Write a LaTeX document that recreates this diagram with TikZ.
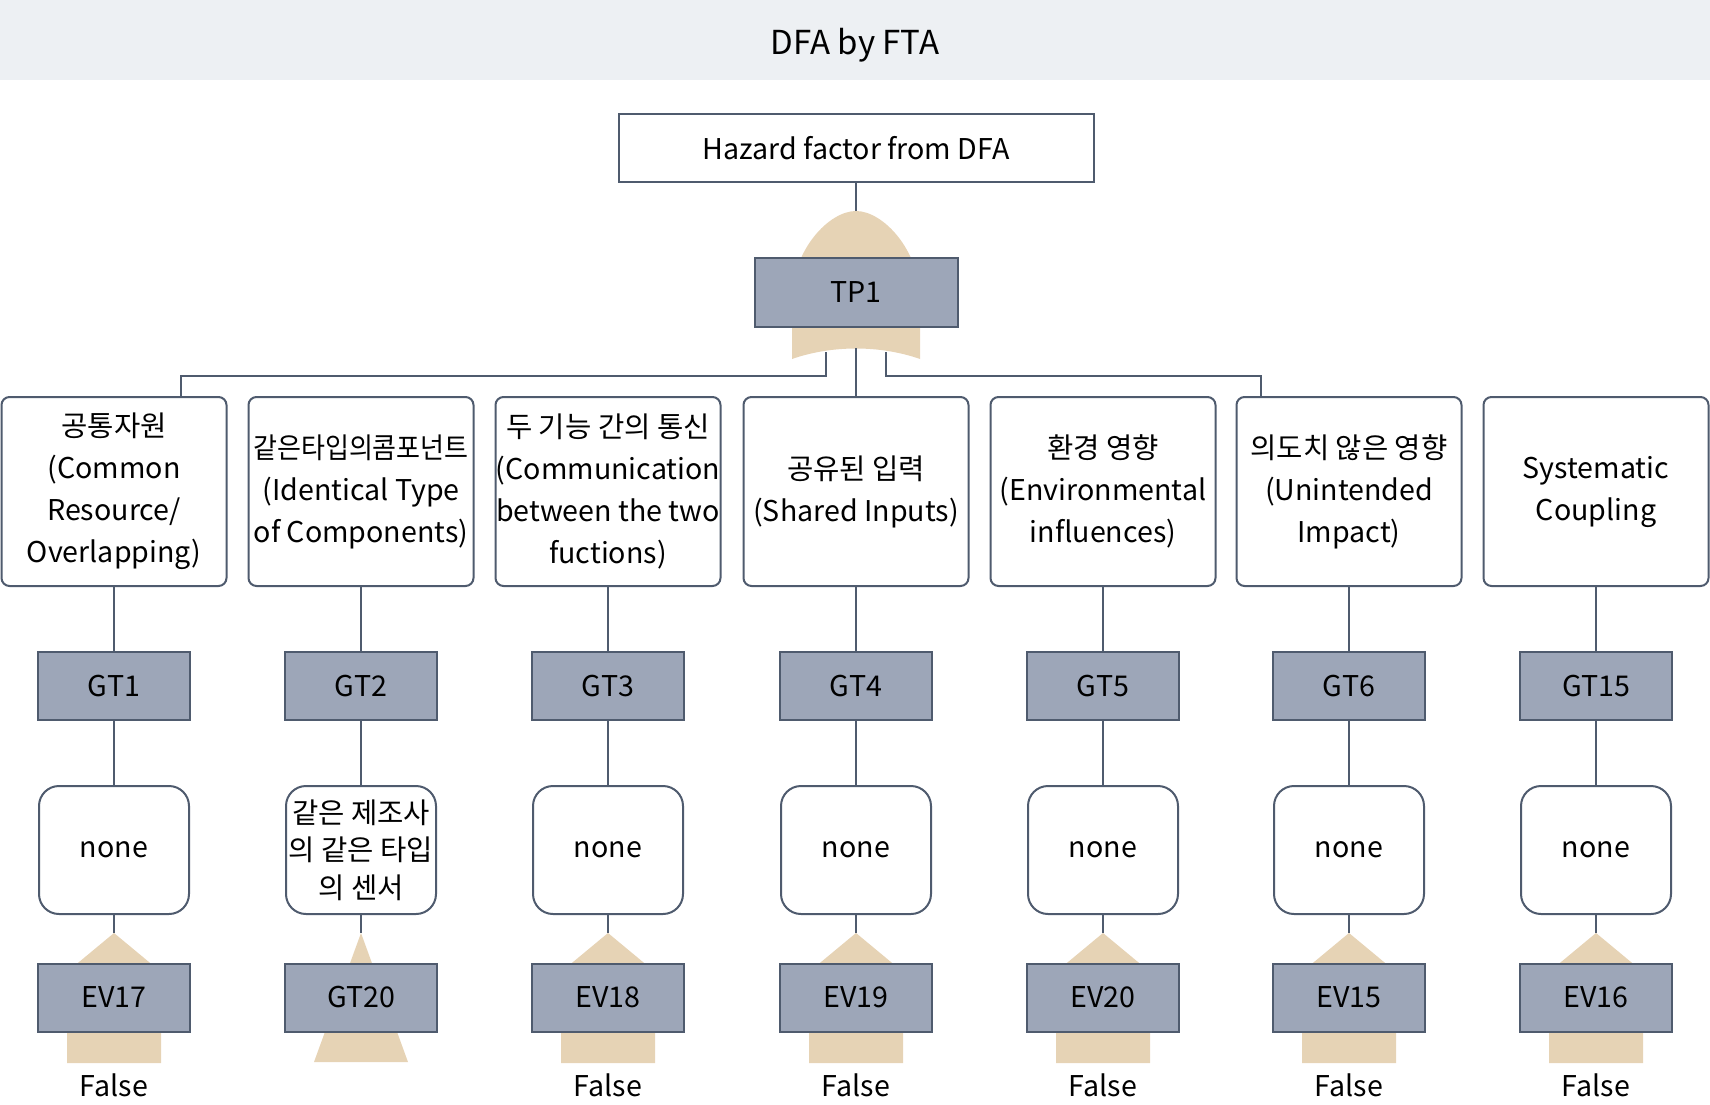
\documentclass[tikz,border=0pt]{standalone}
\usepackage{fontspec}
\setmainfont{Noto Sans CJK KR}
\usepackage{graphicx}
\usetikzlibrary{calc}

\definecolor{edge}{RGB}{79,91,110}
\definecolor{gatefill}{RGB}{157,166,184}
\definecolor{gatetan}{RGB}{230,211,181}
\definecolor{band}{RGB}{237,240,243}

\begin{document}
\begin{tikzpicture}[
  x=1pt, y=-1pt,
  font=\fontsize{28.6}{37.6}\selectfont,
  wire/.style={draw=edge, line width=2pt},
  box/.style={draw=edge, line width=2pt, fill=white, align=center, inner sep=0pt},
  topbox/.style={box, minimum width=475pt, minimum height=68pt},
  catbox/.style={box, rounded corners=8pt, minimum width=225pt, minimum height=189pt,
                 font=\fontsize{28.6}{42}\selectfont},
  nonebox/.style={box, rounded corners=20pt, minimum width=150pt, minimum height=128pt},
  gatebox/.style={box, fill=gatefill, minimum width=152pt, minimum height=68pt},
  symbol/.style={fill=gatetan},
]
\useasboundingbox (0,0) rectangle (1710,1105);

% title band
\fill[band] (0,0) rectangle (1710,80);
\node (title) at (855,45) {\fontsize{33}{40}\selectfont DFA by FTA};

% top event and OR gate
\node[topbox] (hazard) at (856,148) {Hazard factor from DFA};

\coordinate (orTop) at (856,211);
\coordinate (orBotL) at (826,352);
\coordinate (orBot) at (856,348);
\coordinate (orBotR) at (886,352);
\fill[symbol] (792,359) -- (792,300) .. controls (792,250) and (829,211) .. (orTop)
  .. controls (883,211) and (920,250) .. (920,300) -- (920,359)
  .. controls (880,345) and (832,345) .. cycle;
\node[gatebox, minimum width=203pt, minimum height=69pt] (tp1) at (856,292.5) {TP1};
\draw[wire] (hazard.south) -- (orTop);

% DFA categories
\node[catbox] (cat1) at (114,491.5) {공통자원\\(Common\\Resource/\\Overlapping)};
\node[catbox] (cat2) at (361,491.5) {\scalebox{0.91}[1]{같은타입의콤포넌트}\\(Identical Type\\of Components)};
\node[catbox] (cat3) at (608,491.5) {두 기능 간의 통신\\(Communication\\between the two\\fuctions)};
\node[catbox] (cat4) at (856,491.5) {공유된 입력\\(Shared Inputs)};
\node[catbox] (cat5) at (1103,491.5) {환경 영향\\(Environmental\\influences)};
\node[catbox] (cat6) at (1349,491.5) {의도치 않은 영향\\(Unintended\\Impact)};
\node[catbox] (cat7) at (1596,491.5) {Systematic\\Coupling};

\draw[wire] (orBotL) -- ++(0,24) -| ($(cat1.north east)+(-47,0)$);
\draw[wire] (orBot) -- (orBot |- cat4.north);
\draw[wire] (orBotR) -- ++(0,24) -| ($(cat6.north west)+(25,0)$);

% gates, conditions and basic events
\foreach \n/\x/\g/\e in {1/114/GT1/EV17, 3/608/GT3/EV18, 4/856/GT4/EV19,
                         5/1103/GT5/EV20, 6/1349/GT6/EV15, 7/1596/GT15/EV16} {
  \node[gatebox] (gt\n) at (\x,686) {\g};
  \node[nonebox] (none\n) at (\x,850) {none};
  \fill[symbol] (\x,933) -- (\x+47,972) -- (\x+47,1063) -- (\x-47,1063) -- (\x-47,972) -- cycle;
  \node[gatebox] (ev\n) at (\x,997.5) {\e};
  \node (false\n) at (\x,1085) {False};
  \draw[wire] (cat\n) -- (gt\n);
  \draw[wire] (gt\n) -- (none\n);
  \draw[wire] (none\n.south) -- (\x,933);
}

% transfer branch
\node[gatebox] (gt2) at (361,686) {GT2};
\node[nonebox] (none2) at (361,850) {같은 제조사\\의 같은 타입\\의 센서};
\fill[symbol] (361,933) -- (408,1062) -- (314,1062) -- cycle;
\node[gatebox] (gt20) at (361,997.5) {GT20};
\draw[wire] (cat2) -- (gt2);
\draw[wire] (gt2) -- (none2);
\draw[wire] (none2.south) -- (361,933);

\end{tikzpicture}
\end{document}
